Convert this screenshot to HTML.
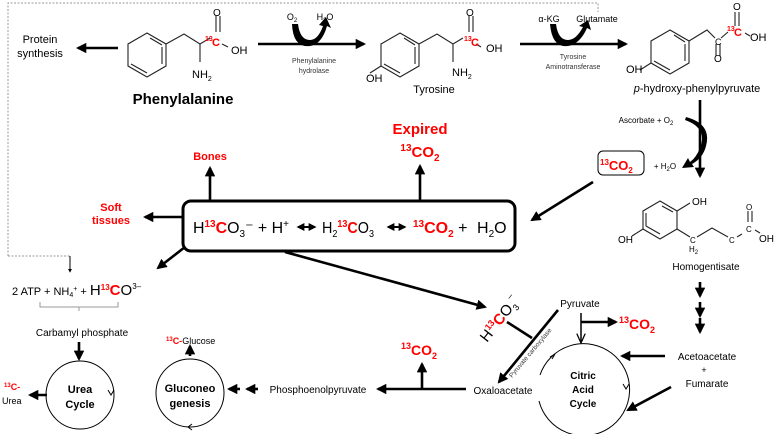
<!DOCTYPE html>
<html><head><meta charset="utf-8"><style>
body{margin:0;background:#fff}
svg{display:block;font-family:"Liberation Sans",Arial,sans-serif}
.r{fill:#f00;font-weight:bold}
</style></head><body>
<svg width="777" height="434" viewBox="0 0 777 434" xmlns="http://www.w3.org/2000/svg">
<defs>
<marker id="a" viewBox="0 0 10 10" refX="8" refY="5" markerWidth="4" markerHeight="4" orient="auto-start-reverse"><path d="M0,0L10,5L0,10z" fill="#000"/></marker>
<marker id="t" viewBox="0 0 10 10" refX="8" refY="5" markerWidth="7" markerHeight="7" orient="auto"><path d="M0,1L9,5L0,9" fill="none" stroke="#000" stroke-width="1.2"/></marker>
</defs>
<g fill="none" stroke="#999" stroke-width="1" stroke-dasharray="2,1.5">
<path d="M8,256V3H598V12"/><path d="M8,256H70"/>
</g>
<path d="M70,256V272" stroke="#000" stroke-width="1" marker-end="url(#a)"/>
<g stroke="#000" stroke-width="2.6" fill="none" marker-end="url(#a)">
<path d="M118,48H78"/>
<path d="M258,44H364"/>
<path d="M520,44H626"/>
<path d="M700,100V176"/>
<path d="M593,182L532,220"/>
<path d="M210,200V168"/>
<path d="M420,200V166"/>
<path d="M182,217H145"/>
<path d="M185,247L158,268"/>
<path d="M79,342V359"/>
<path d="M47,395H30"/>
<path d="M190,356V346"/>
<path d="M240,389H229"/>
<path d="M258,389H247"/>
<path d="M400,389H378"/>
<path d="M422,389V364"/>
<path d="M285,252L485,307"/>
<path d="M558,310L499,382"/>
<path d="M581,322H616"/>
<path d="M700,282V296"/><path d="M700,302V316"/><path d="M700,318V332"/>
<path d="M665,356H622"/>
<path d="M671,387L628,410"/>
</g>
<g stroke="#000" stroke-width="2.6" fill="none">
<path d="M400,389H466"/><path d="M507,322L532,338"/>
<path d="M581,313V342" marker-end="url(#t)" stroke-width="1.5"/>
</g>
<g fill="#000">
<path d="M292,24 Q293,48 310,46 Q322,44 327,26 L331,28 L326,17 L319,25 L323,26 Q318,40 310,40 Q300,40 298,24z"/>
<path d="M550,24 Q552,48 568,46 Q580,44 587,28 L591,30 L588,20 L579,26 L583,27 Q576,40 568,40 Q558,40 556,24z"/>
<path d="M685,120 Q708,128 700,148 Q696,158 690,162 L688,158 L682,168 L694,167 L692,164 Q703,158 706,146 Q712,124 686,117z"/>
</g>
<!-- box -->
<rect x="183" y="201" width="332" height="50" rx="8" fill="none" stroke="#000" stroke-width="3"/>
<g font-size="16">
<text x="193" y="233" textLength="96" lengthAdjust="spacingAndGlyphs">H<tspan class="r" font-size="10" dy="-6">13</tspan><tspan class="r" dy="6">C</tspan>O<tspan font-size="10" dy="4">3</tspan><tspan dy="-4">⁻ + H</tspan><tspan font-size="10" dy="-6">+</tspan></text>
<text x="322" y="233" textLength="52" lengthAdjust="spacingAndGlyphs">H<tspan font-size="10" dy="4">2</tspan><tspan class="r" font-size="10" dy="-10">13</tspan><tspan class="r" dy="6">C</tspan>O<tspan font-size="10" dy="4">3</tspan></text>
<text x="413" y="233"><tspan class="r" font-size="10" dy="-6">13</tspan><tspan class="r" dy="6">CO</tspan><tspan class="r" font-size="10" dy="4">2</tspan><tspan dy="-4"> +</tspan></text>
<text x="477" y="233">H<tspan font-size="10" dy="4">2</tspan><tspan dy="-4">O</tspan></text>
</g>
<g stroke="#000" stroke-width="2" marker-start="url(#a)" marker-end="url(#a)"><path d="M298,227H315"/><path d="M388,227H405"/></g>
<!-- structures -->
<g fill="none" stroke="#222" stroke-width="1.1">
<polygon points="147,33 166,44 166,66 147,77 128,66 128,44"/><path d="M150,38L162,45M162,64V47M131,64L147,73"/>
<path d="M166,44L184,34L200,44L210,38M222,44L228,47M200,44V62M216,32V16M220,32V16"/>
<polygon points="400,33 419,44 419,66 400,77 381,66 381,44"/><path d="M404,38L415,45M415,64V47M384,64L400,73M381,66L370,73"/>
<path d="M419,44L437,34L453,44L463,38M476,44L481,47M453,44V62M469,32V16M473,32V16"/>
<polygon points="670,30 689,41 689,63 670,74 651,63 651,41"/><path d="M674,35L685,42M685,61V44M654,61L670,70M651,63L640,70"/>
<path d="M689,41L707,30L715,38M721,38L728,32M745,33L750,36M716,44V56M720,44V56M735,26V12M739,26V12"/>
<polygon points="660,201 677,211 677,229 660,239 643,229 643,211"/><path d="M662,206L673,212M646,226L660,234M646,213V226M677,211L690,203M643,229L632,236M677,229L690,237M697,237L712,228L728,237M737,237L742,234M755,230L760,233M748,222V211M752,222V211"/>
</g>
<g font-size="11" fill="#000">
<text x="213" y="16" font-size="10">O</text><text x="231" y="54">OH</text><text x="192" y="78">NH<tspan font-size="7" dy="3">2</tspan></text>
<text x="205" y="41" class="r" font-size="7">13</text><text x="212" y="46" class="r">C</text>
<text x="466" y="16" font-size="10">O</text><text x="486" y="52">OH</text><text x="452" y="76">NH<tspan font-size="7" dy="3">2</tspan></text><text x="366" y="82">OH</text>
<text x="464" y="41" class="r" font-size="7">13</text><text x="471" y="46" class="r">C</text>
<text x="733" y="10" font-size="10">O</text><text x="750" y="41">OH</text><text x="715" y="45" font-size="9">C</text><text x="714" y="62" font-size="10">O</text><text x="626" y="73">OH</text>
<text x="727" y="31" class="r" font-size="7">13</text><text x="734" y="36" class="r">C</text>
<text x="692" y="205" font-size="10">OH</text><text x="618" y="243" font-size="10">OH</text><text x="689" y="252" font-size="8">H<tspan font-size="6" dy="2">2</tspan></text>
<text x="746" y="210" font-size="8">O</text><text x="759" y="242" font-size="10">OH</text><text x="746" y="232" font-size="8">C</text><text x="729" y="243" font-size="8">C</text><text x="690" y="243" font-size="8">C</text>
</g>
<g font-size="11" fill="#000" text-anchor="middle">
<text x="40" y="43">Protein</text><text x="40" y="57">synthesis</text>
<text x="183" y="104" font-size="15" font-weight="bold">Phenylalanine</text>
<text x="292" y="20" font-size="9">O<tspan font-size="6" dy="2">2</tspan></text><text x="325" y="20" font-size="9">H<tspan font-size="6" dy="2">2</tspan><tspan dy="-2">O</tspan></text>
<text x="314" y="63" font-size="7" fill="#333">Phenylalanine</text><text x="314" y="73" font-size="7" fill="#333">hydrolase</text>
<text x="434" y="93">Tyrosine</text>
<text x="549" y="22" font-size="9">α-KG</text><text x="597" y="22" font-size="9">Glutamate</text>
<text x="573" y="59" font-size="7" fill="#333">Tyrosine</text><text x="573" y="69" font-size="7" fill="#333">Aminotransferase</text>
<text x="697" y="92"><tspan font-style="italic">p</tspan>-hydroxy-phenylpyruvate</text>
<text x="646" y="123" font-size="8">Ascorbate + O<tspan font-size="6" dy="2">2</tspan></text>
<text x="665" y="169" font-size="8">+ H<tspan font-size="6" dy="2">2</tspan><tspan dy="-2">O</tspan></text>
<text x="210" y="160" class="r" font-size="11">Bones</text>
<text x="420" y="134" class="r" font-size="15">Expired</text>
<text x="420" y="157" class="r" font-size="15"><tspan font-size="10" dy="-6">13</tspan><tspan dy="6">CO</tspan><tspan font-size="10" dy="4">2</tspan></text>
<text x="111" y="211" class="r" font-size="11">Soft</text><text x="111" y="224" class="r" font-size="11">tissues</text>
<text x="706" y="270" font-size="10">Homogentisate</text>
<text x="82" y="336" font-size="10">Carbamyl phosphate</text>
<text x="80" y="393" font-size="11" font-weight="bold">Urea</text><text x="80" y="408" font-size="11" font-weight="bold">Cycle</text>
<text x="190" y="392" font-size="11" font-weight="bold">Gluconeo</text><text x="190" y="407" font-size="11" font-weight="bold">genesis</text>
<text x="318" y="393" font-size="10">Phosphoenolpyruvate</text>
<text x="503" y="394" font-size="10">Oxaloacetate</text>
<text x="580" y="307" font-size="10">Pyruvate</text>
<text x="583" y="379" font-size="10" font-weight="bold">Citric</text><text x="583" y="393" font-size="10" font-weight="bold">Acid</text><text x="583" y="407" font-size="10" font-weight="bold">Cycle</text>
<text x="707" y="360" font-size="10">Acetoacetate</text><text x="704" y="373" font-size="9">+</text><text x="707" y="387" font-size="10">Fumarate</text>
</g>
<text x="12" y="295" font-size="11">2 ATP + NH<tspan font-size="7" dy="2">4</tspan><tspan font-size="7" dy="-6">+</tspan><tspan dy="4"> + </tspan><tspan font-size="15">H</tspan><tspan class="r" font-size="8" dy="-5">13</tspan><tspan class="r" font-size="15" dy="5">C</tspan><tspan font-size="15">O</tspan><tspan font-size="8" dy="-6">3–</tspan></text>
<path d="M40,302V307H118V302M79,307V311" fill="none" stroke="#999" stroke-width="1"/>
<text x="600" y="170" class="r" font-size="13"><tspan font-size="8" dy="-5">13</tspan><tspan dy="5">CO</tspan><tspan font-size="8" dy="3">2</tspan></text>
<rect x="598" y="151" width="46" height="24" rx="5" fill="none" stroke="#000" stroke-width="1"/>
<text x="166" y="344" font-size="9"><tspan class="r" font-size="6" dy="-3">13</tspan><tspan class="r" dy="3">C-</tspan>Glucose</text>
<text x="4" y="390" class="r" font-size="9"><tspan font-size="6" dy="-3">13</tspan><tspan dy="3">C-</tspan></text><text x="2" y="404" font-size="9">Urea</text>
<text x="401" y="355" class="r" font-size="14"><tspan font-size="9" dy="-6">13</tspan><tspan dy="6">CO</tspan><tspan font-size="9" dy="4">2</tspan></text>
<text x="619" y="329" class="r" font-size="14"><tspan font-size="9" dy="-6">13</tspan><tspan dy="6">CO</tspan><tspan font-size="9" dy="4">2</tspan></text>
<text transform="translate(487,343) rotate(-52)" font-size="15">H<tspan class="r" font-size="9" dy="-6">13</tspan><tspan class="r" dy="6">C</tspan>O<tspan font-size="9" dy="4">3</tspan><tspan font-size="9" dy="-12">–</tspan></text>
<text transform="translate(512,378) rotate(-50)" font-size="6.5" fill="#333">Pyruvate carboxylase</text>
<g fill="none" stroke="#000" stroke-width="1">
<circle cx="80" cy="395" r="34"/><circle cx="190" cy="393" r="34"/>
<path d="M539,401 A46,46 0 1 0 540,375"/>
<path d="M108,390l3,5l3,-5"/><path d="M192,424l-4,3l4,3"/><path d="M550,357l5,-3l-3,5"/><path d="M623,384l3,5l3,-5"/>
</g>
</svg>
</body></html>
